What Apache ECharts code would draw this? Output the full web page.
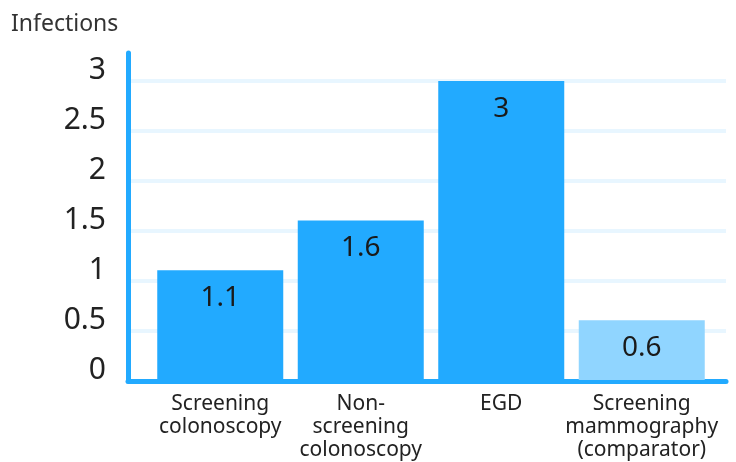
<!DOCTYPE html>
<html>
<head>
<meta charset="utf-8">
<script src="https://cdn.jsdelivr.net/npm/echarts@6/dist/echarts.min.js"></script>
<style>
  html, body { margin: 0; padding: 0; background: #fff; }
  #chart { width: 736px; height: 462px; }
</style>
</head>
<body>
<div id="chart"></div>
<script>
// data
var categories = ['Screening\ncolonoscopy', 'Non-\nscreening\ncolonoscopy', 'EGD', 'Screening\nmammography\n(comparator)'];
var infections = [1.1, 1.6, 3, 0.6];
var barColors = ['#22aaff', '#22aaff', '#22aaff', '#90d5ff'];
var yTitle = 'Infections';

var FONT = '"Noto Sans", sans-serif';
var BLUE = '#22aaff';

var chart = echarts.init(document.getElementById('chart'));

var option = {
    animation: false,
    title: {
        text: yTitle,
        left: 6,
        top: 8,
        textStyle: { fontFamily: FONT, fontSize: 23, fontWeight: 'normal', color: '#333' }
    },
    // grid 0: frame (axis lines + gridlines), grid 1: bars
    grid: [
        { left: 128, right: 10, top: 53, bottom: 81 },
        { left: 150, right: 24, top: 53, bottom: 81 }
    ],
    xAxis: [
        {
            type: 'category',
            gridIndex: 0,
            data: categories,
            axisLine: { show: true, lineStyle: { color: BLUE, width: 5 } },
            axisTick: { show: false },
            axisLabel: { show: false },
            splitLine: { show: false }
        },
        {
            type: 'category',
            gridIndex: 1,
            data: categories,
            axisLine: { show: false },
            axisTick: { show: false },
            axisLabel: {
                margin: 13,
                fontFamily: FONT,
                fontSize: 21,
                lineHeight: 23,
                color: '#222',
                interval: 0
            }
        }
    ],
    yAxis: [
        {
            type: 'value',
            gridIndex: 0,
            min: 0,
            max: 3.28,
            interval: 0.5,
            axisLine: { show: true, lineStyle: { color: BLUE, width: 5 } },
            axisTick: { show: false },
            axisLabel: {
                showMaxLabel: false,
                margin: 22,
                fontFamily: FONT,
                fontSize: 30,
                lineHeight: 22,
                color: '#222',
                verticalAlign: 'bottom'
            },
            splitLine: { show: true, showMaxLine: false, lineStyle: { color: '#e8f6ff', width: 4 } }
        },
        {
            type: 'value',
            gridIndex: 1,
            min: 0,
            max: 3.28,
            show: false,
            splitLine: { show: false }
        }
    ],
    series: [
        {
            type: 'bar',
            xAxisIndex: 1,
            yAxisIndex: 1,
            barWidth: 126,
            data: infections.map(function (v, i) {
                return { value: v, itemStyle: { color: barColors[i] } };
            }),
            label: {
                show: true,
                position: 'insideTop',
                distance: 14,
                fontFamily: FONT,
                fontSize: 28,
                color: '#1a1a1a'
            }
        }
    ]
};

chart.setOption(option);
</script>
</body>
</html>
